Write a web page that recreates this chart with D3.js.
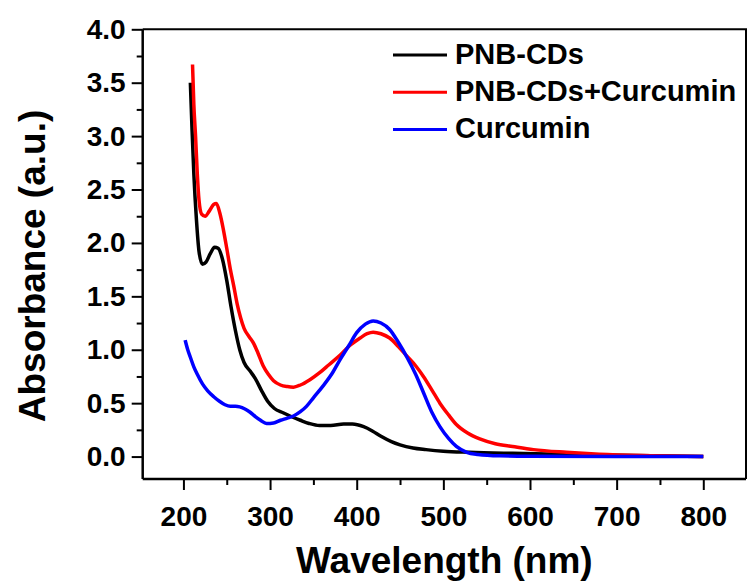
<html>
    <head>
        <title>Absorbance</title>
        <script src="https://cdnjs.cloudflare.com/ajax/libs/d3/7.8.5/d3.min.js"></script>
        <style>
            body {
                margin: 0;
                background-color: white;
            }
            text {
                font-family: "Liberation Sans", Arial, sans-serif;
                font-weight: bold;
            }
        </style>
    </head>
    <body>
        <svg id="chart"></svg>
    </body>
    <script>
        const WIDTH = 747
        const HEIGHT = 581
        const PLOT = {
                left: 142.7,
                right: 746,
                top: 29.3,
                bottom: 479
            }

        // data: [wavelength (nm), absorbance]
        const seriesNames = ["PNB-CDs", "PNB-CDs+Curcumin", "Curcumin"]
        const seriesColors = ["#000000", "#ff0000", "#0000ff"]

        const pnbCDs = [[208,3.50],[210,3.05],[212,2.65],[215,2.22],[218,1.92],[222,1.80],[226,1.82],[231,1.90],
            [236,1.96],[240,1.95],[245,1.85],[250,1.65],[255,1.40],[260,1.18],[265,1.00],[270,0.88],[277,0.80],
            [283,0.73],[290,0.62],[297,0.52],[305,0.45],[315,0.41],[323,0.38],[335,0.34],[345,0.31],[357,0.29],
            [370,0.29],[385,0.305],[395,0.305],[408,0.28],[418,0.24],[428,0.19],[440,0.14],[450,0.11],[465,0.08],
            [480,0.065],[500,0.05],[530,0.04],[580,0.03],[650,0.02],[720,0.01],[800,0.0]]

        const pnbCDsCurcumin = [[210.5,3.67],[212,3.30],[214,3.00],[216,2.65],[218,2.40],[221,2.27],[225,2.25],
            [230,2.30],[235,2.36],[238,2.37],[242,2.28],[246,2.13],[250,1.95],[254,1.76],[258,1.60],[262,1.43],
            [266,1.30],[270,1.20],[276,1.12],[281,1.06],[286,0.97],[292,0.85],[298,0.77],[304,0.71],[312,0.67],
            [320,0.655],[327,0.65],[335,0.67],[346,0.72],[358,0.79],[368,0.86],[381,0.95],[392,1.04],[404,1.11],
            [412,1.15],[419,1.165],[428,1.15],[438,1.11],[448,1.03],[458,0.94],[468,0.85],[477,0.75],[487,0.62],
            [496,0.50],[506,0.39],[515,0.30],[528,0.22],[542,0.165],[560,0.12],[580,0.094],[604,0.065],
            [642,0.04],[680,0.022],[740,0.008],[800,0.0]]

        const curcumin = [[202,1.09],[205,1.00],[208,0.93],[212,0.84],[216,0.77],[222,0.68],[228,0.615],[235,0.56],
            [242,0.515],[248,0.485],[254,0.47],[260,0.47],[265,0.465],[271,0.445],[277,0.415],[283,0.375],
            [289,0.34],[296,0.31],[304,0.315],[312,0.34],[320,0.36],[327,0.38],[335,0.42],[342,0.47],[350,0.55],
            [361,0.66],[371,0.77],[381,0.91],[391,1.04],[400,1.16],[410,1.24],[419,1.27],[428,1.25],[438,1.19],
            [448,1.07],[458,0.93],[468,0.77],[477,0.60],[487,0.41],[496,0.28],[506,0.17],[515,0.095],[527,0.04],
            [540,0.02],[565,0.007],[600,0.003],[700,0.0],[800,0.0]]

        const xTicks = [200, 300, 400, 500, 600, 700, 800]
        const xMinorTicks = [250, 350, 450, 550, 650, 750]
        const yTicks = [0, 0.5, 1.0, 1.5, 2.0, 2.5, 3.0, 3.5, 4.0]
        const yMinorTicks = [0.25, 0.75, 1.25, 1.75, 2.25, 2.75, 3.25, 3.75]

        function drawChart(svg) {
            var xScale = d3.scaleLinear()
                .domain([153, 849.3])
                .range([PLOT.left, PLOT.right])
            var yScale = d3.scaleLinear()
                .domain([-0.21, 4.0])
                .range([PLOT.bottom, PLOT.top])

            // frame (top and right)
            svg.append("path")
                .attr("d", `M${PLOT.left},${PLOT.top}H${PLOT.right}V${PLOT.bottom}`)
                .attr("fill", "none")
                .attr("stroke", "black")
                .attr("stroke-width", 2)

            // curves
            const line = d3.line()
                .x(d => xScale(d[0]))
                .y(d => yScale(d[1]))
                .curve(d3.curveMonotoneX)

            let allSeries = [pnbCDs, pnbCDsCurcumin, curcumin]
            allSeries.forEach(function(s, i) {
                svg.append("path")
                    .datum(s)
                    .attr("fill", "none")
                    .attr("stroke", seriesColors[i])
                    .attr("stroke-width", 3.5)
                    .attr("stroke-linejoin", "round")
                    .attr("d", line)
            })

            // x axis
            let xAxis = d3.axisBottom(xScale)
                .tickValues(xTicks)
                .tickSize(11)
                .tickPadding(16)
                .tickFormat(d3.format("d"))
            let gx = svg.append("g")
                .attr("transform", `translate(0,${PLOT.bottom})`)
                .call(xAxis)
            gx.select(".domain").attr("d", `M${PLOT.left},0H${PLOT.right}`)
            svg.append("g")
                .attr("transform", `translate(0,${PLOT.bottom})`)
                .call(d3.axisBottom(xScale).tickValues(xMinorTicks).tickSize(6).tickFormat(""))
                .select(".domain").remove()

            // y axis
            let yAxis = d3.axisLeft(yScale)
                .tickValues(yTicks)
                .tickSize(11)
                .tickPadding(6)
                .tickFormat(d3.format(".1f"))
            let gy = svg.append("g")
                .attr("transform", `translate(${PLOT.left},0)`)
                .call(yAxis)
            gy.select(".domain").attr("d", `M0,${PLOT.bottom}V${PLOT.top}`)
            svg.append("g")
                .attr("transform", `translate(${PLOT.left},0)`)
                .call(d3.axisLeft(yScale).tickValues(yMinorTicks).tickSize(6).tickFormat(""))
                .select(".domain").remove()

            svg.selectAll(".domain").attr("stroke-width", 2.5)
            svg.selectAll(".tick line").attr("stroke-width", 2)
            svg.selectAll(".tick text")
                .attr("font-size", 28)
                .attr("font-family", null)
                .attr("fill", "black")

            // axis titles
            svg.append("text")
                .text("Wavelength (nm)")
                .attr("x", (PLOT.left + PLOT.right) / 2)
                .attr("y", 573)
                .attr("text-anchor", "middle")
                .attr("font-size", 37)
            svg.append("text")
                .text("Absorbance (a.u.)")
                .attr("text-anchor", "middle")
                .attr("font-size", 37)
                .attr("transform", "translate(45,266) rotate(-90)")

            // legend
            seriesNames.forEach(function(name, i) {
                let ly = 55 + i * 37.2
                svg.append("line")
                    .attr("x1", 393)
                    .attr("x2", 447)
                    .attr("y1", ly)
                    .attr("y2", ly)
                    .attr("stroke", seriesColors[i])
                    .attr("stroke-width", 3)
                svg.append("text")
                    .text(name)
                    .attr("x", 455)
                    .attr("y", ly + 8.5)
                    .attr("font-size", 29)
            })
        }

        function main() {
            let svg = d3.select("#chart")
                .attr("width", WIDTH)
                .attr("height", HEIGHT)
            drawChart(svg)
        }

        main()
    </script>
</html>
